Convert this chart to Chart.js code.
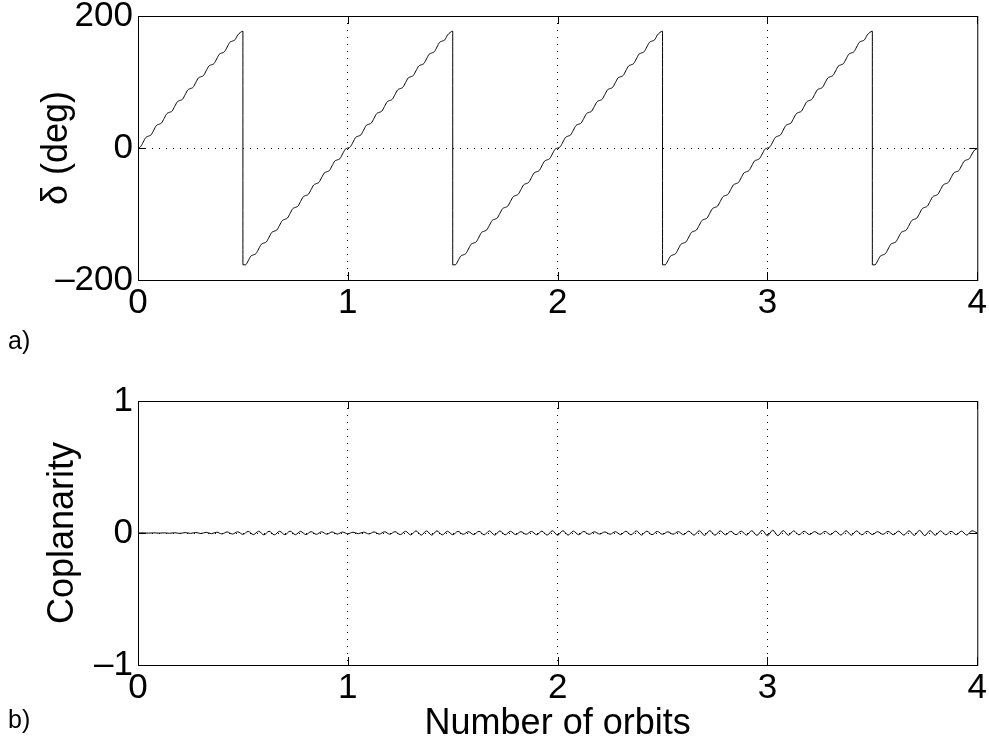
<!DOCTYPE html>
<html lang="en">
<head>
  <meta charset="UTF-8">
  <title>Relative phase and coplanarity</title>
  <style>
    html, body { margin: 0; padding: 0; background: #fff; }
    body { width: 989px; height: 744px; position: relative; overflow: hidden; font-family: "Liberation Sans", Arial, sans-serif; }
    canvas { position: absolute; left: 0; }
    #grafDelta { top: -20px; }
    #grafCoplanar { top: 340px; }
    .tag { position: absolute; left: 8px; font-size: 25px; line-height: 1; color: #000; }
  </style>
</head>
<body>

  <canvas id="grafDelta" width="989" height="360"></canvas>
  <canvas id="grafCoplanar" width="989" height="404"></canvas>
  <div class="tag" style="top: 328px;">a)</div>
  <div class="tag" style="top: 707px;">b)</div>

  <script src="https://cdn.jsdelivr.net/npm/chart.js"></script>

  <script>
    // delta (deg), sampled every 0.0125 orbit
    const deltaStep = 0.0125;
    // 0 -> 0.5 orbit
    const deltaFirstHalf = [0, 2, 9, 16, 18, 20, 27, 34, 36, 38, 45, 52, 54, 56, 63, 70, 72, 74, 81, 88,
      90, 92, 99, 106, 108, 110, 117, 124, 126, 128, 135, 142, 144, 146, 153, 160, 162, 164, 171, 175, 177];
    // one full sweep from -180 to 180, repeated at each start below
    const deltaSweep = [-177, -177, -171, -164, -162, -160, -153, -146, -144, -142, -135, -128, -126, -124, -117, -110,
      -108, -106, -99, -92, -90, -88, -81, -74, -72, -70, -63, -56, -54, -52, -45, -38, -36, -34, -27, -20,
      -18, -16, -9, -2, 0, 2, 9, 16, 18, 20, 27, 34, 36, 38, 45, 52, 54, 56, 63, 70, 72, 74, 81, 88,
      90, 92, 99, 106, 108, 110, 117, 124, 126, 128, 135, 142, 144, 146, 153, 160, 162, 164, 171, 175, 177];
    const sweepStarts = [0.5, 1.5, 2.5];
    // 3.5 -> 4 orbit
    const deltaLastHalf = [-177, -177, -171, -164, -162, -160, -153, -146, -144, -142, -135, -128, -126, -124, -117, -110,
      -108, -106, -99, -92, -90, -88, -81, -74, -72, -70, -63, -56, -54, -52, -45, -38, -36, -34, -27, -20,
      -18, -16, -9, -3, -1];

    // coplanarity, sampled every 0.025 orbit
    const coplanarStep = 0.025;
    const coplanarity = [
      0, 0.001, -0.001, 0.001, -0.001, 0.001, -0.002, 0.002, -0.003, 0.003, -0.003, 0.004,
      -0.004, 0.005, -0.005, 0.006, -0.007, 0.008, -0.008, 0.009, -0.010, 0.012, -0.012, 0.013,
      -0.014, 0.013, -0.014, 0.013, -0.013, 0.014, -0.013, 0.012, -0.012, 0.010, -0.010, 0.009,
      -0.009, 0.008, -0.008, 0.007, -0.006, 0.006, -0.005, 0.006, -0.007, 0.008, -0.008, 0.009,
      -0.009, 0.010, -0.012, 0.013, -0.014, 0.016, -0.016, 0.016, -0.016, 0.016, -0.014, 0.013,
      -0.013, 0.012, -0.010, 0.010, -0.012, 0.013, -0.014, 0.016, -0.016, 0.016, -0.014, 0.013,
      -0.012, 0.010, -0.010, 0.012, -0.013, 0.014, -0.016, 0.017, -0.017, 0.017, -0.016, 0.014,
      -0.013, 0.012, -0.010, 0.009, -0.008, 0.008, -0.009, 0.010, -0.012, 0.013, -0.014, 0.016,
      -0.016, 0.014, -0.013, 0.012, -0.010, 0.009, -0.009, 0.010, -0.013, 0.014, -0.016, 0.017,
      -0.018, 0.018, -0.017, 0.016, -0.014, 0.013, -0.013, 0.014, -0.016, 0.017, -0.018, 0.020,
      -0.021, 0.021, -0.020, 0.018, -0.017, 0.016, -0.014, 0.013, -0.012, 0.010, -0.010, 0.012,
      -0.013, 0.014, -0.016, 0.017, -0.017, 0.016, -0.014, 0.013, -0.012, 0.010, -0.010, 0.012,
      -0.013, 0.014, -0.016, 0.017, -0.018, 0.020, -0.020, 0.018, -0.017, 0.016, -0.014, 0.013,
      -0.013, 0.014, -0.016, 0.017, 0];

    // axes
    const orbitTicks = [0, 1, 2, 3, 4];
    const orbitTickLabels = ['0', '1', '2', '3', '4'];
    const deltaTicks = [-200, 0, 200];
    const deltaTickLabels = ['\u2013200', '0', '200'];
    const coplanarTicks = [-1, 0, 1];
    const coplanarTickLabels = ['\u20131', '0', '1'];

    const FAMILIA = '"Liberation Sans", Arial, sans-serif';
    const FUENTE_TICKS = { family: FAMILIA, size: 35 };
    const FUENTE_TITULO = { family: FAMILIA, size: 36, lineHeight: 1.1 };

    function puntos(valores, x0, paso) {
      return valores.map((v, i) => ({ x: x0 + i * paso, y: v }));
    }

    let serieDelta = puntos(deltaFirstHalf, 0, deltaStep);
    sweepStarts.forEach(s => { serieDelta = serieDelta.concat(puntos(deltaSweep, s, deltaStep)); });
    serieDelta = serieDelta.concat(puntos(deltaLastHalf, 3.5, deltaStep));

    const serieCoplanar = puntos(coplanarity, 0, coplanarStep);

    // box frame with inward ticks on all four sides
    const marco = {
      id: 'marco',
      afterDatasetsDraw(chart) {
        const { ctx, chartArea: a, scales: { x, y } } = chart;
        const L = 8;
        ctx.save();
        ctx.strokeStyle = '#000';
        ctx.lineWidth = 1;
        ctx.strokeRect(a.left + 0.5, a.top + 0.5, a.right - a.left, a.bottom - a.top);
        ctx.beginPath();
        x.ticks.forEach(t => {
          const px = Math.round(x.getPixelForValue(t.value)) + 0.5;
          ctx.moveTo(px, a.bottom); ctx.lineTo(px, a.bottom - L);
          ctx.moveTo(px, a.top); ctx.lineTo(px, a.top + L);
        });
        y.ticks.forEach(t => {
          const py = Math.round(y.getPixelForValue(t.value)) + 0.5;
          ctx.moveTo(a.left, py); ctx.lineTo(a.left + L, py);
          ctx.moveTo(a.right, py); ctx.lineTo(a.right - L, py);
        });
        ctx.stroke();
        ctx.restore();
      }
    };

    function ejeX(titulo, alto) {
      return {
        type: 'linear', min: 0, max: 4,
        afterFit: s => { s.height = alto; },
        afterBuildTicks: s => { s.ticks = orbitTicks.map(v => ({ value: v })); },
        ticks: {
          color: '#000', font: FUENTE_TICKS, padding: 2, maxRotation: 0, autoSkip: false,
          callback: v => orbitTickLabels[orbitTicks.indexOf(v)]
        },
        grid: {
          drawTicks: false,
          color: c => (c.tick && (c.tick.value === 0 || c.tick.value === 4)) ? 'rgba(0,0,0,0)' : '#000'
        },
        border: { display: false, dash: [1, 6] },
        title: titulo ? { display: true, text: titulo, color: '#000', font: FUENTE_TITULO, padding: { top: 0, bottom: 0 } } : { display: false }
      };
    }

    function ejeY(min, max, valores, etiquetas, titulo, sep) {
      return {
        type: 'linear', min: min, max: max,
        afterFit: s => { s.width = 138; },
        afterBuildTicks: s => { s.ticks = valores.map(v => ({ value: v })); },
        ticks: {
          color: '#000', font: FUENTE_TICKS, padding: 5, autoSkip: false,
          callback: v => etiquetas[valores.indexOf(v)]
        },
        grid: {
          drawTicks: false,
          color: c => (c.tick && (c.tick.value === min || c.tick.value === max)) ? 'rgba(0,0,0,0)' : '#000'
        },
        border: { display: false, dash: [1, 6] },
        title: { display: true, text: titulo, color: '#000', font: FUENTE_TITULO, padding: { top: sep, bottom: 0 } }
      };
    }

    function opcionesLinea(datos) {
      return {
        data: datos,
        borderColor: '#000',
        borderWidth: 1,
        pointRadius: 0,
        fill: false,
        cubicInterpolationMode: 'monotone'
      };
    }

    new Chart(document.querySelector('#grafDelta'), {
      type: 'line',
      data: { datasets: [opcionesLinea(serieDelta)] },
      options: {
        responsive: false,
        animation: false,
        parsing: false,
        layout: { padding: { top: 36, right: 11, left: 0, bottom: 0 } },
        plugins: { legend: { display: false }, tooltip: { enabled: false } },
        scales: {
          x: ejeX(null, 60),
          y: ejeY(-200, 200, deltaTicks, deltaTickLabels, '\u03b4 (deg)', 37)
        }
      },
      plugins: [marco]
    });

    new Chart(document.querySelector('#grafCoplanar'), {
      type: 'line',
      data: { datasets: [opcionesLinea(serieCoplanar)] },
      options: {
        responsive: false,
        animation: false,
        parsing: false,
        layout: { padding: { top: 61, right: 11, left: 0, bottom: 0 } },
        plugins: { legend: { display: false }, tooltip: { enabled: false } },
        scales: {
          x: ejeX('Number of orbits', 79),
          y: ejeY(-1, 1, coplanarTicks, coplanarTickLabels, 'Coplanarity', 43)
        }
      },
      plugins: [marco]
    });
  </script>

</body>
</html>
